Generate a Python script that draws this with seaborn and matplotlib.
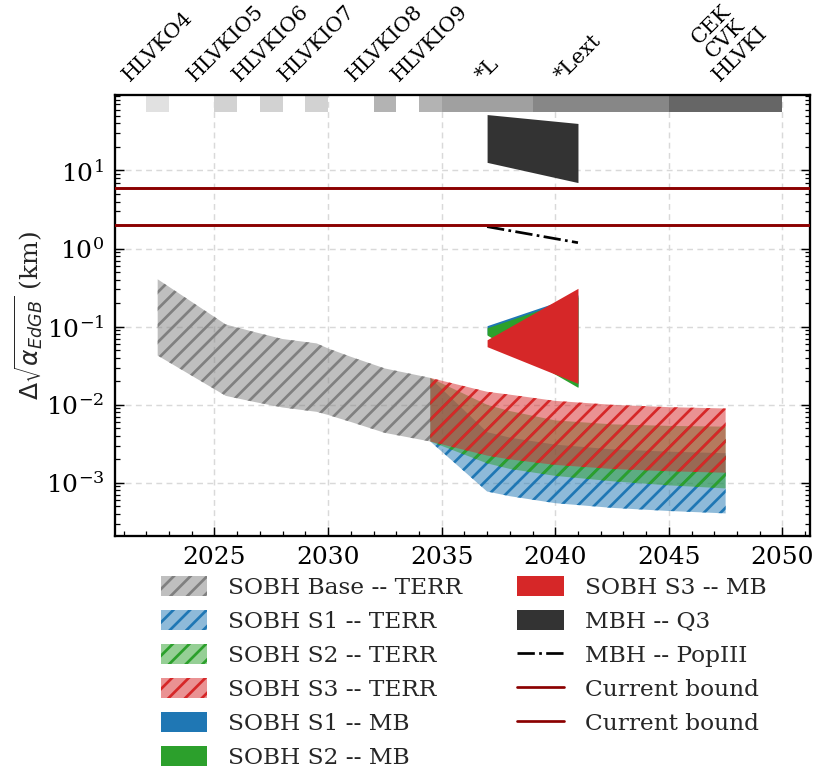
import numpy as np
import pandas as pd
import matplotlib
matplotlib.use("Agg")
import matplotlib.pyplot as plt
import seaborn as sns
from matplotlib.patches import Patch
from matplotlib.lines import Line2D
from matplotlib.ticker import MultipleLocator, LogLocator, NullFormatter

# ---- detector observing runs (top bar) ----
run_labels = ["HLVKO4", "HLVKIO5", "HLVKIO6", "HLVKIO7", "HLVKIO8", "HLVKIO9",
              "*Lext", "*L", "CEK\nCVK\nHLVKI"]
run_start = [2022, 2025, 2027, 2029, 2032, 2034, 2037, 2035, 2045]
run_end = [2023, 2026, 2028, 2030, 2033, 2035, 2045, 2039, 2050]
run_colors = ["#e1e1e1", "#d2d2d2", "#d2d2d2", "#d2d2d2", "#b3b3b3", "#b3b3b3",
              "#878787", "#a0a0a0", "#666666"]

# ---- SOBH baseline, terrestrial network ----
base_years = [2022.5, 2025.5, 2026.7, 2028.0, 2029.5, 2030.0, 2031.0, 2032.5, 2034.5]
base_hi = [0.405, 0.1067, 0.0863, 0.0695, 0.0611, 0.0527, 0.0412, 0.0292, 0.0221]
base_lo = [0.0427, 0.0130, 0.01096, 0.00923, 0.00813, 0.00741, 0.00603, 0.00437, 0.00339]

# ---- SOBH scenarios, terrestrial network ----
terr_years = [2034.5, 2037, 2038, 2040, 2042.5, 2045, 2047.5]
s1_terr_hi = [0.0221, 0.00447, 0.0038, 0.00309, 0.00269, 0.00251, 0.0024]
s1_terr_lo = [0.00339, 0.000776, 0.000676, 0.00055, 0.000479, 0.000437, 0.000407]
s2_terr_hi = [0.0221, 0.0100, 0.00832, 0.00631, 0.00562, 0.00537, 0.00525]
s2_terr_lo = [0.00339, 0.00178, 0.00151, 0.00123, 0.00105, 0.00093, 0.00085]
s3_terr_hi = [0.0221, 0.01469, 0.01349, 0.01122, 0.0100, 0.00933, 0.00897]
s3_terr_lo = [0.00339, 0.00224, 0.00200, 0.00170, 0.00151, 0.00141, 0.00135]

# ---- multiband and massive black holes ----
mb_years = [2037, 2041]
s1_mb_hi = [0.103, 0.255]
s1_mb_lo = [0.080, 0.0172]
s2_mb_hi = [0.097, 0.24]
s2_mb_lo = [0.078, 0.0167]
s3_mb_hi = [0.068, 0.31]
s3_mb_lo = [0.0555, 0.0188]
q3_hi = [52.0, 40.0]
q3_lo = [12.7, 7.0]
popiii = [1.91, 1.19]

# ---- current bounds ----
bounds = [6.0, 2.0]

C0, C1, C2, GRAY = "#1f77b4", "#2ca02c", "#d62728", "#808080"

sns.set_theme(style="ticks", rc={
    "xtick.direction": "in", "ytick.direction": "in",
    "xtick.top": True, "ytick.right": True,
    "xtick.major.size": 4.5, "ytick.major.size": 4.5,
    "xtick.minor.size": 2.5, "ytick.minor.size": 2.5,
    "xtick.major.width": 0.7, "ytick.major.width": 0.7,
    "xtick.minor.width": 0.6, "ytick.minor.width": 0.6,
    "axes.linewidth": 1.1, "axes.edgecolor": "black",
    "xtick.color": "black", "ytick.color": "black",
    "hatch.linewidth": 1.3,
})
plt.rcParams["font.family"] = ["DejaVu Serif"]
plt.rcParams["mathtext.fontset"] = "dejavusans"

fig = plt.figure(figsize=(815 / 150, 771 / 150), dpi=150)
ax = fig.add_axes([0.1405, 0.305, 0.853, 0.572])
ax.set_yscale("log")


def rgba(c, a):
    r, g, b = matplotlib.colors.to_rgb(c)
    return (r, g, b, a)


def band(x, lo, hi, color, hatch=None, alpha=0.5):
    ax.fill_between(x, lo, hi, facecolor=rgba(color, alpha), edgecolor=color,
                    linewidth=0, hatch=hatch)


HATCH = "///"

# observing runs along the top
for s, e, c in zip(run_start, run_end, run_colors):
    ax.axvspan(s, e, ymin=0.96, ymax=1.0, color=c, lw=0, zorder=1)

# terrestrial bands
band(base_years, base_lo, base_hi, GRAY, HATCH)
band(terr_years, s1_terr_lo, s1_terr_hi, C0, HATCH)
band(terr_years, s2_terr_lo, s2_terr_hi, C1, HATCH)
band(terr_years, s3_terr_lo, s3_terr_hi, C2, HATCH)

# multiband bands
band(mb_years, s1_mb_lo, s1_mb_hi, C0, alpha=1)
band(mb_years, s2_mb_lo, s2_mb_hi, C1, alpha=1)
band(mb_years, s3_mb_lo, s3_mb_hi, C2, alpha=1)
band(mb_years, q3_lo, q3_hi, "#333333", alpha=1)

pop_df = pd.DataFrame({"year": mb_years, "val": popiii})
sns.lineplot(data=pop_df, x="year", y="val", ax=ax, color="black",
             linestyle="-.", linewidth=1.3)

for b in bounds:
    ax.axhline(b, color="darkred", linewidth=1.4, zorder=3)

ax.set_xlim(2020.6, 2051.2)
ax.set_ylim(2.1e-4, 93)
ax.xaxis.set_major_locator(MultipleLocator(5))
ax.xaxis.set_minor_locator(MultipleLocator(1))
ax.yaxis.set_major_locator(LogLocator(base=10, numticks=20))
ax.yaxis.set_minor_locator(LogLocator(base=10, subs=np.arange(2, 10), numticks=20))
ax.yaxis.set_minor_formatter(NullFormatter())
ax.grid(True, which="major", linestyle=(0, (4, 3)), color="#d9d9d9", linewidth=0.7)
ax.set_axisbelow(True)
ax.set_xlabel("")
ax.set_ylabel(r"$\Delta\sqrt{\alpha_{EdGB}}$ (km)", fontsize=12, labelpad=0)
ax.tick_params(axis="both", which="major", labelsize=12, pad=5)

# run names on a twin axis
ax2 = ax.twiny()
ax2.set_xlim(ax.get_xlim())
centers = [(s + e) / 2 for s, e in zip(run_start, run_end)]
ax2.set_xticks(centers)
ax2.set_xticklabels(run_labels, rotation=45, fontsize=10, ha="center",
                    multialignment="center", linespacing=1.1)
ax2.tick_params(axis="x", which="both", length=0, pad=5)
ax2.xaxis.set_minor_locator(matplotlib.ticker.NullLocator())
for sp in ax2.spines.values():
    sp.set_visible(False)

handles = [
    Patch(facecolor=rgba(GRAY, 0.5), edgecolor=GRAY, hatch=HATCH, linewidth=0),
    Patch(facecolor=rgba(C0, 0.5), edgecolor=C0, hatch=HATCH, linewidth=0),
    Patch(facecolor=rgba(C1, 0.5), edgecolor=C1, hatch=HATCH, linewidth=0),
    Patch(facecolor=rgba(C2, 0.5), edgecolor=C2, hatch=HATCH, linewidth=0),
    Patch(facecolor=C0, linewidth=0),
    Patch(facecolor=C1, linewidth=0),
    Patch(facecolor=C2, linewidth=0),
    Patch(facecolor="#333333", linewidth=0),
    Line2D([], [], color="black", linestyle="-.", linewidth=1.3),
    Line2D([], [], color="darkred", linewidth=1.3),
    Line2D([], [], color="darkred", linewidth=1.3),
]
labels = ["SOBH Base -- TERR", "SOBH S1 -- TERR", "SOBH S2 -- TERR",
          "SOBH S3 -- TERR", "SOBH S1 -- MB", "SOBH S2 -- MB", "SOBH S3 -- MB",
          "MBH -- Q3", "MBH -- PopIII", "Current bound", "Current bound"]
fig.legend(handles, labels, ncol=2, loc="upper left", bbox_to_anchor=(0.183, 0.2685),
           frameon=False, fontsize=11.2, borderpad=0, labelspacing=0.47,
           handletextpad=0.9, columnspacing=2.35, handleheight=0.95)

fig.savefig("out.png", dpi=150)
